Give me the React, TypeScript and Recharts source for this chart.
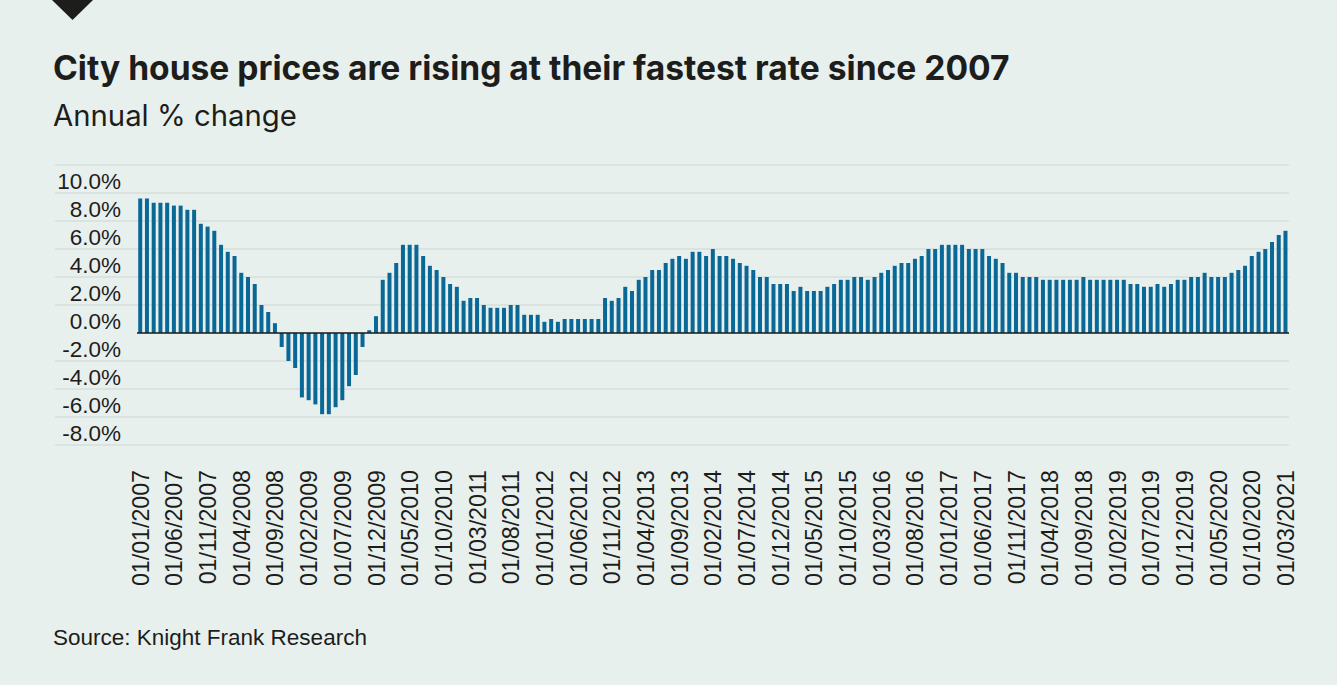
import { BarChart, Bar, XAxis, YAxis, CartesianGrid, ReferenceLine } from 'recharts'

// annual % change, one value per month (Jan..Dec)
const y2007 = [9.6, 9.6, 9.3, 9.3, 9.3, 9.1, 9.1, 8.8, 8.8, 7.8, 7.6, 7.3]
const y2008 = [6.3, 5.8, 5.5, 4.3, 4.0, 3.5, 2.0, 1.5, 0.7, -1.0, -2.0, -2.5]
const y2009 = [-4.6, -4.8, -5.1, -5.8, -5.8, -5.3, -4.8, -3.8, -3.0, -1.0, 0.2, 1.2]
const y2010 = [3.8, 4.3, 5.0, 6.3, 6.3, 6.3, 5.5, 4.8, 4.5, 4.0, 3.5, 3.3]
const y2011 = [2.3, 2.5, 2.5, 2.0, 1.8, 1.8, 1.8, 2.0, 2.0, 1.3, 1.3, 1.3]
const y2012 = [0.8, 1.0, 0.8, 1.0, 1.0, 1.0, 1.0, 1.0, 1.0, 2.5, 2.3, 2.5]
const y2013 = [3.3, 3.0, 3.8, 4.0, 4.5, 4.5, 5.0, 5.3, 5.5, 5.3, 5.8, 5.8]
const y2014 = [5.5, 6.0, 5.5, 5.5, 5.3, 5.0, 4.8, 4.5, 4.0, 4.0, 3.5, 3.5]
const y2015 = [3.5, 3.0, 3.3, 3.0, 3.0, 3.0, 3.3, 3.5, 3.8, 3.8, 4.0, 4.0]
const y2016 = [3.8, 4.0, 4.3, 4.5, 4.8, 5.0, 5.0, 5.3, 5.5, 6.0, 6.0, 6.3]
const y2017 = [6.3, 6.3, 6.3, 6.0, 6.0, 6.0, 5.5, 5.3, 5.0, 4.3, 4.3, 4.0]
const y2018 = [4.0, 4.0, 3.8, 3.8, 3.8, 3.8, 3.8, 3.8, 4.0, 3.8, 3.8, 3.8]
const y2019 = [3.8, 3.8, 3.8, 3.5, 3.5, 3.3, 3.3, 3.5, 3.3, 3.5, 3.8, 3.8]
const y2020 = [4.0, 4.0, 4.3, 4.0, 4.0, 4.0, 4.3, 4.5, 4.8, 5.5, 5.8, 6.0]
const y2021 = [6.5, 7.0, 7.3]

const years = [
  [2007, y2007], [2008, y2008], [2009, y2009], [2010, y2010], [2011, y2011],
  [2012, y2012], [2013, y2013], [2014, y2014], [2015, y2015], [2016, y2016],
  [2017, y2017], [2018, y2018], [2019, y2019], [2020, y2020], [2021, y2021],
] as const

const yTicks = [-8, -6, -4, -2, 0, 2, 4, 6, 8, 10, 12]

const data = years.flatMap(([yr, vals]) =>
  vals.map((v, i) => ({
    date: `01/${String(i + 1).padStart(2, '0')}/${yr}`,
    value: v,
  }))
)

const BG = '#e8f0ee'
const BAR = '#0a6896'
const GRID = '#cdd6d3'
const INK = '#1d1d1b'
const AXIS_FONT = '"Liberation Sans", Arial, sans-serif'
const HEAD_FONT = 'Inter, "Liberation Sans", sans-serif'

const PLOT_LEFT = 137

function YTick({ y, payload }: any) {
  const v = payload.value as number
  return (
    <g>
      {v !== 0 && (
        <line x1={55} x2={PLOT_LEFT} y1={y} y2={y} stroke={GRID} strokeWidth={1.2} />
      )}
      {v !== 12 && (
        <text
          x={121}
          y={y - 12}
          textAnchor="end"
          dominantBaseline="central"
          fill={INK}
          fontSize={22.5}
          fontFamily={AXIS_FONT}
        >
          {v.toFixed(1)}%
        </text>
      )}
    </g>
  )
}

function XTick({ x, payload }: any) {
  const y = 470
  return (
    <text
      x={x}
      y={y}
      transform={`rotate(-90 ${x} ${y})`}
      textAnchor="end"
      dy="0.36em"
      fill={INK}
      fontSize={23.2}
      fontFamily={AXIS_FONT}
    >
      {payload.value}
    </text>
  )
}

export default function App() {
  return (
    <div
      style={{
        position: 'fixed',
        top: 0,
        left: 0,
        width: 1337,
        height: 685,
        background: BG,
        overflow: 'hidden',
      }}
    >
      <svg width={100} height={24} style={{ position: 'absolute', left: 0, top: 0 }}>
        <polygon points="52,0 93,0 72.5,20" fill={INK} />
      </svg>
      <div
        style={{
          position: 'absolute',
          left: 53,
          top: 51,
          fontFamily: HEAD_FONT,
          fontWeight: 700,
          fontSize: 33.6,
          lineHeight: 1,
          color: INK,
          whiteSpace: 'nowrap',
        }}
      >
        City house prices are rising at their fastest rate since 2007
      </div>
      <div
        style={{
          position: 'absolute',
          left: 53,
          top: 101,
          fontFamily: HEAD_FONT,
          fontSize: 29.3,
          lineHeight: 1,
          color: INK,
          whiteSpace: 'nowrap',
        }}
      >
        Annual % change
      </div>
      <div style={{ position: 'absolute', left: 0, top: 0 }}>
        <BarChart
          width={1337}
          height={685}
          data={data}
          margin={{ top: 165, right: 48, bottom: 90, left: 55 }}
          barCategoryGap="18%"
        >
          <CartesianGrid vertical={false} stroke={GRID} strokeWidth={1.2} />
          <XAxis
            dataKey="date"
            interval={4}
            axisLine={false}
            tickLine={false}
            height={150}
            tick={<XTick />}
          />
          <YAxis
            type="number"
            domain={[-8, 12]}
            ticks={yTicks}
            width={PLOT_LEFT - 55}
            axisLine={false}
            tickLine={false}
            tick={<YTick />}
          />
          <Bar dataKey="value" fill={BAR} isAnimationActive={false} />
          <ReferenceLine y={0} stroke={INK} strokeWidth={1.5} />
        </BarChart>
      </div>
      <div
        style={{
          position: 'absolute',
          left: 53,
          top: 627,
          fontFamily: AXIS_FONT,
          fontSize: 22.5,
          lineHeight: 1,
          color: INK,
          whiteSpace: 'nowrap',
        }}
      >
        Source: Knight Frank Research
      </div>
    </div>
  )
}
